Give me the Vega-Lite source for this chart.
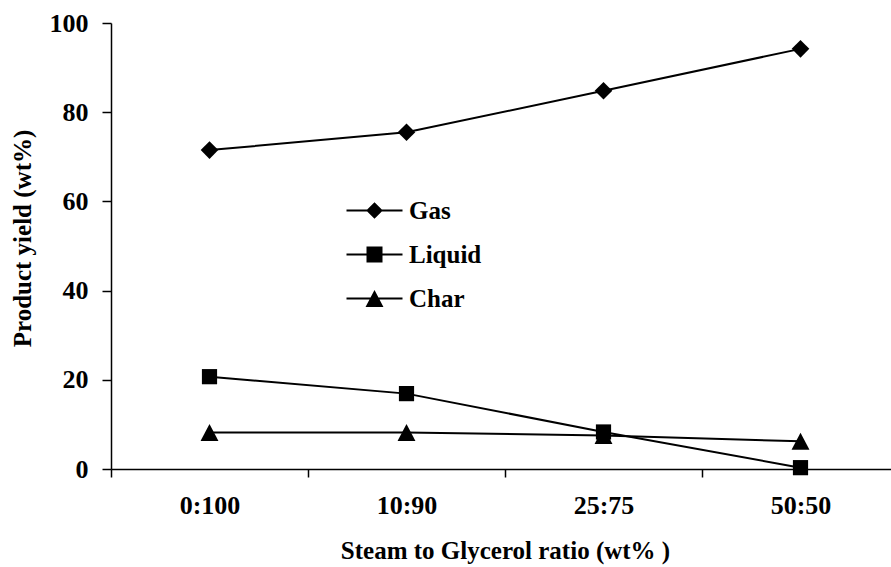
{
  "$schema": "https://vega.github.io/schema/vega-lite/v6.json",
  "width": 780,
  "height": 446,
  "autosize": {"type": "none"},
  "padding": {"left": 111, "top": 23, "right": 0, "bottom": 98},
  "background": "white",
  "config": {
    "view": {"stroke": null},
    "font": "Liberation Serif",
    "axis": {
      "grid": false,
      "domainColor": "black",
      "domainWidth": 1.5,
      "tickColor": "black",
      "tickWidth": 1.5,
      "labelFont": "Liberation Serif",
      "labelFontWeight": "bold",
      "labelFontSize": 26,
      "labelColor": "black",
      "titleFont": "Liberation Serif",
      "titleFontWeight": "bold",
      "titleFontSize": 25,
      "titleColor": "black"
    }
  },
  "data": {
    "values": [
      {"ratio": "0:100", "series": "Gas", "yield": 71.5},
      {"ratio": "10:90", "series": "Gas", "yield": 75.5},
      {"ratio": "25:75", "series": "Gas", "yield": 84.8},
      {"ratio": "50:50", "series": "Gas", "yield": 94.2},
      {"ratio": "0:100", "series": "Liquid", "yield": 20.7},
      {"ratio": "10:90", "series": "Liquid", "yield": 16.9},
      {"ratio": "25:75", "series": "Liquid", "yield": 8.3},
      {"ratio": "50:50", "series": "Liquid", "yield": 0.3},
      {"ratio": "0:100", "series": "Char", "yield": 8.2},
      {"ratio": "10:90", "series": "Char", "yield": 8.2},
      {"ratio": "25:75", "series": "Char", "yield": 7.5},
      {"ratio": "50:50", "series": "Char", "yield": 6.2}
    ]
  },
  "encoding": {
    "x": {
      "field": "ratio",
      "type": "nominal",
      "sort": ["0:100", "10:90", "25:75", "50:50"],
      "scale": {"paddingInner": 0, "paddingOuter": 0, "range": [0, 788]},
      "axis": {
        "title": "Steam to Glycerol ratio (wt% )",
        "labelAngle": 0,
        "tickBand": "extent",
        "tickSize": 8,
        "labelPadding": 15,
        "titlePadding": 20
      }
    },
    "y": {
      "field": "yield",
      "type": "quantitative",
      "scale": {"domain": [0, 100], "nice": false},
      "axis": {
        "title": "Product yield (wt%)",
        "values": [0, 20, 40, 60, 80, 100],
        "tickSize": 9,
        "labelPadding": 14,
        "titlePadding": 14,
        "titleY": 215
      }
    }
  },
  "layer": [
    {
      "mark": {"type": "line", "color": "black", "strokeWidth": 2},
      "encoding": {"detail": {"field": "series"}}
    },
    {
      "mark": {"type": "point", "filled": true, "color": "black", "opacity": 1, "size": 256},
      "encoding": {
        "shape": {
          "field": "series",
          "type": "nominal",
          "scale": {
            "domain": ["Gas", "Liquid", "Char"],
            "range": [
              "M0,-1.1L1.1,0L0,1.1L-1.1,0Z",
              "M-0.95,-0.95H0.95V0.95H-0.95Z",
              "M0,-1.06L1.12,1.06H-1.12Z"
            ]
          },
          "legend": null
        }
      }
    },
    {
      "mark": {"type": "point", "filled": true, "color": "black", "opacity": 0, "size": 256},
      "encoding": {
        "shape": {
          "field": "series",
          "type": "nominal",
          "scale": {
            "domain": ["Gas", "Liquid", "Char"],
            "range": [
              "M-3.5,-0.13H3.5V0.13H-3.5Z M0,-1.04L1.04,0L0,1.04L-1.04,0Z",
              "M-3.5,-0.13H3.5V0.13H-3.5Z M-1,-1H1V1H-1Z",
              "M-3.5,-0.13H3.5V0.13H-3.5Z M0,-1.06L1.12,1.06H-1.12Z"
            ]
          },
          "legend": {
            "title": null,
            "orient": "none",
            "legendX": 251,
            "legendY": 175,
            "padding": 0,
            "symbolSize": 256,
            "symbolOpacity": 1,
            "symbolFillColor": "black",
            "symbolStrokeWidth": 0,
            "labelFont": "Liberation Serif",
            "labelFontWeight": "bold",
            "labelFontSize": 25,
            "labelColor": "black",
            "labelOffset": 22,
            "rowPadding": 18
          }
        }
      }
    }
  ],
  "resolve": {"scale": {"shape": "independent"}}
}
